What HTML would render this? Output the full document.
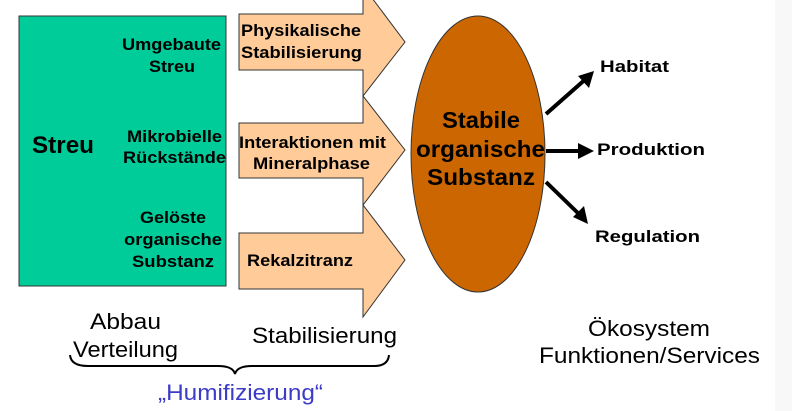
<!DOCTYPE html>
<html><head><meta charset="utf-8"><style>
body{margin:0;width:792px;height:411px;overflow:hidden;background:#fff;font-family:"Liberation Sans",sans-serif;}
svg{position:absolute;left:0;top:0}
</style></head><body>
<svg width="792" height="411" viewBox="0 0 792 411" font-family="Liberation Sans, sans-serif">
<rect x="775" y="0" width="17" height="411" fill="#f8f8f8"/>
<rect x="19" y="16" width="207" height="270" fill="#00cc99" stroke="#333" stroke-width="1"/>
<g fill="#ffcc99" stroke="#333" stroke-width="1">
<polygon points="239,14 363,14 363,-14 405,42 363,96 363,70 239,70"/>
<polygon points="239,123 363,123 363,96 405,150 363,205 363,178 239,178"/>
<polygon points="239,233 363,233 363,205 405,260 363,317 363,289 239,289"/>
</g>
<ellipse cx="478" cy="154" rx="67" ry="138" fill="#cc6600" stroke="#333" stroke-width="1"/>
<g stroke="#000" stroke-width="4" fill="none">
<line x1="546" y1="114" x2="588" y2="77"/>
<line x1="546" y1="151" x2="587" y2="151"/>
<line x1="546" y1="182" x2="582" y2="217"/>
</g>
<g fill="#000">
<polygon points="594,71 578,76 589,88"/>
<polygon points="594,151 578,143 578,159"/>
<polygon points="588,224 573,217 584,206"/>
</g>
<g font-weight="bold" font-size="17" fill="#000" lengthAdjust="spacingAndGlyphs">
<text x="122" y="50" textLength="99" lengthAdjust="spacingAndGlyphs">Umgebaute</text>
<text x="149" y="72" textLength="46" lengthAdjust="spacingAndGlyphs">Streu</text>
<text x="127" y="142" textLength="95" lengthAdjust="spacingAndGlyphs">Mikrobielle</text>
<text x="123" y="163" textLength="103" lengthAdjust="spacingAndGlyphs">Rückstände</text>
<text x="140" y="223" textLength="66" lengthAdjust="spacingAndGlyphs">Gelöste</text>
<text x="124" y="245" textLength="98" lengthAdjust="spacingAndGlyphs">organische</text>
<text x="132" y="267" textLength="82" lengthAdjust="spacingAndGlyphs">Substanz</text>
<text x="241" y="36" textLength="120" lengthAdjust="spacingAndGlyphs">Physikalische</text>
<text x="241" y="58" textLength="121" lengthAdjust="spacingAndGlyphs">Stabilisierung</text>
<text x="239" y="148" textLength="147" lengthAdjust="spacingAndGlyphs">Interaktionen mit</text>
<text x="253" y="169" textLength="117" lengthAdjust="spacingAndGlyphs">Mineralphase</text>
<text x="247" y="266" textLength="106" lengthAdjust="spacingAndGlyphs">Rekalzitranz</text>
<text x="600" y="72" textLength="69" lengthAdjust="spacingAndGlyphs">Habitat</text>
<text x="597" y="155" textLength="108" lengthAdjust="spacingAndGlyphs">Produktion</text>
<text x="595" y="242" textLength="105" lengthAdjust="spacingAndGlyphs">Regulation</text>
</g>
<text x="32" y="153" font-weight="bold" font-size="24" textLength="62" lengthAdjust="spacingAndGlyphs">Streu</text>
<g font-weight="bold" font-size="23">
<text x="442" y="128" textLength="78" lengthAdjust="spacingAndGlyphs">Stabile</text>
<text x="416" y="157" textLength="129" lengthAdjust="spacingAndGlyphs">organische</text>
<text x="427" y="185" textLength="108" lengthAdjust="spacingAndGlyphs">Substanz</text>
</g>
<g font-size="22" fill="#000">
<text x="90" y="329" textLength="71" lengthAdjust="spacingAndGlyphs">Abbau</text>
<text x="73" y="357" textLength="105" lengthAdjust="spacingAndGlyphs">Verteilung</text>
<text x="252" y="343" textLength="145" lengthAdjust="spacingAndGlyphs">Stabilisierung</text>
<text x="588" y="336" textLength="122" lengthAdjust="spacingAndGlyphs">Ökosystem</text>
<text x="539" y="363" textLength="221" lengthAdjust="spacingAndGlyphs">Funktionen/Services</text>
</g>
<path d="M70,355 Q71,366 88,366 L218,366 Q233,366 235,374 Q237,366 252,366 L374,366 Q388,366 389,355" fill="none" stroke="#000" stroke-width="2"/>
<text x="158" y="400" font-size="22" fill="#3c3cc8" textLength="165" lengthAdjust="spacingAndGlyphs">„Humifizierung“</text>
</svg>
</body></html>
